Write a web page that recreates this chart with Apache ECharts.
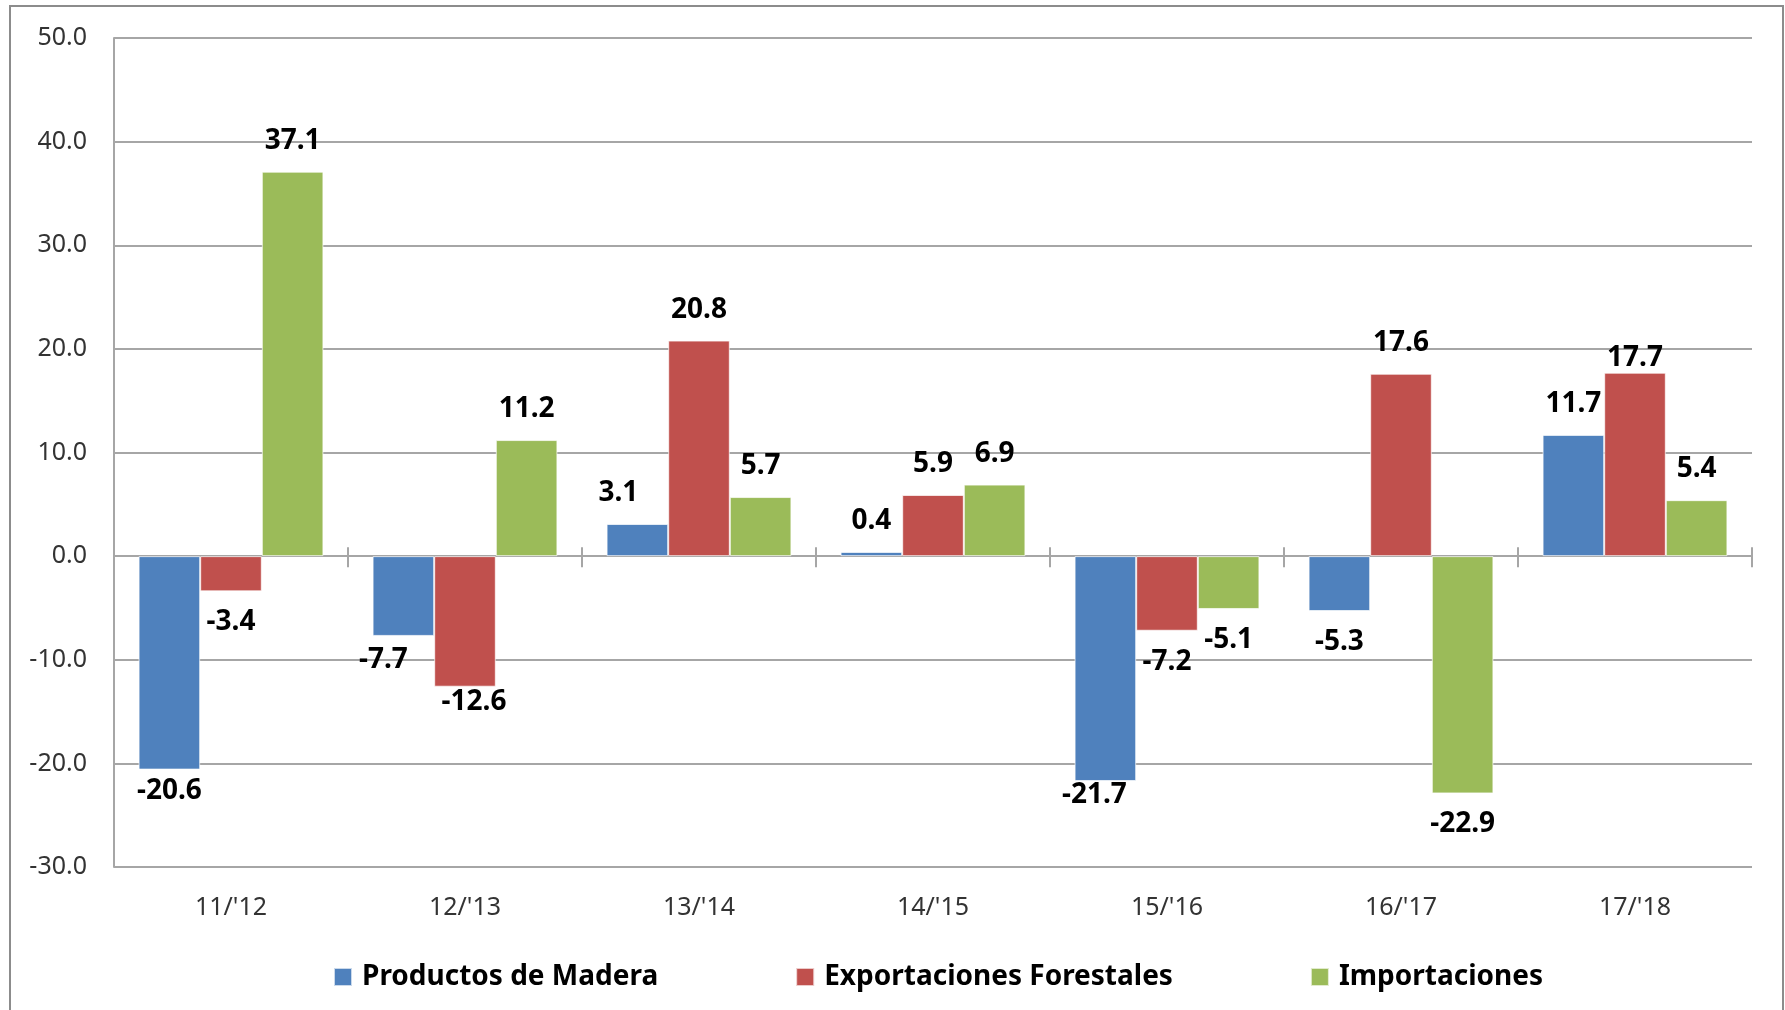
<!DOCTYPE html>
<html>
<head>
<meta charset="utf-8">
<script src="https://cdn.jsdelivr.net/npm/echarts@6/dist/echarts.min.js"></script>
<style>
    html, body { margin: 0; padding: 0; background: #fff; }
    #chart { position: absolute; left: 0; top: 0; width: 1785px; height: 1010px; }
    #frame { position: absolute; left: 9px; top: 5px; width: 1771px; height: 1030px;
             border: 2px solid #8c8c8c; pointer-events: none; }
</style>
</head>
<body>
<div id="chart"></div>
<div id="frame"></div>
<script>
    const categories = ["11/'12", "12/'13", "13/'14", "14/'15", "15/'16", "16/'17", "17/'18"];
    const seriesNames = ['Productos de Madera', 'Exportaciones Forestales', 'Importaciones'];
    const productosMadera = [-20.6, -7.7, 3.1, 0.4, -21.7, -5.3, 11.7];
    const exportacionesForestales = [-3.4, -12.6, 20.8, 5.9, -7.2, 17.6, 17.7];
    const importaciones = [37.1, 11.2, 5.7, 6.9, -5.1, -22.9, 5.4];
    const yTicks = { min: -30, max: 50, interval: 10 };

    const colors = ['#4f81bd', '#c0504d', '#9bbb59'];

    // hand-moved labels in the original, "series-category": [dx, dy]
    const labelNudge = {
        '0-0': [0, -10],
        '0-1': [-20, -7],
        '0-2': [-19, 0],
        '0-4': [-11, -17],
        '1-1': [9, -16],
        '1-6': [0, 16]
    };

    function buildData(values, s) {
        return values.map(function (v, i) {
            let nudge = labelNudge[s + '-' + i] || [0, 0];
            return {
                value: v,
                label: {
                    position: v < 0 ? 'bottom' : 'top',
                    offset: nudge
                }
            };
        });
    }

    const chart = echarts.init(document.getElementById('chart'));
    const font = '"Noto Sans", "DejaVu Sans", sans-serif';
    const gridColor = '#a6a6a6';

    let series = [productosMadera, exportacionesForestales, importaciones].map(function (vals, s) {
        return {
            name: seriesNames[s],
            type: 'bar',
            xAxisIndex: 0,
            yAxisIndex: 0,
            barGap: '0%',
            barCategoryGap: '21%',
            itemStyle: {
                color: colors[s],
                borderColor: 'rgba(255,255,255,0.7)',
                borderWidth: 1
            },
            label: {
                show: true,
                distance: 17,
                color: '#000',
                fontFamily: font,
                fontWeight: 'bold',
                fontSize: 28,
                formatter: function (p) { return p.value.toFixed(1); }
            },
            data: buildData(vals, s)
        };
    });

    let option = {
        animation: false,
        color: colors,
        grid: { left: 114, right: 33, top: 38, bottom: 143 },
        legend: {
            data: seriesNames,
            left: 328,
            top: 958,
            itemWidth: 18,
            itemHeight: 18,
            itemGap: 137,
            icon: 'rect',
            textStyle: {
                fontFamily: font,
                fontWeight: 'bold',
                fontSize: 28,
                color: '#000',
                padding: [0, 0, 0, 5]
            }
        },
        xAxis: [
            {
                // zero line with ticks below it
                type: 'category',
                data: categories,
                position: 'bottom',
                axisLine: { onZero: true, onZeroAxisIndex: 0, lineStyle: { color: gridColor, width: 2 } },
                axisTick: { show: true, interval: 0, length: 11, lineStyle: { color: gridColor, width: 2 } },
                axisLabel: { show: false },
                splitLine: { show: false }
            },
            {
                // category labels at the bottom of the plot
                type: 'category',
                data: categories,
                position: 'bottom',
                axisLine: { show: false, onZero: false },
                axisTick: { show: false },
                axisLabel: {
                    show: true,
                    margin: 28,
                    fontFamily: font,
                    fontSize: 25,
                    color: '#333'
                }
            },
            {
                // upper half of the crossing ticks on the zero line
                type: 'category',
                data: categories,
                position: 'bottom',
                axisLine: { show: false, onZero: true, onZeroAxisIndex: 1 },
                axisTick: { show: true, inside: true, interval: 0, length: 9, lineStyle: { color: gridColor, width: 2 } },
                axisLabel: { show: false }
            }
        ],
        yAxis: [
            {
                type: 'value',
                min: yTicks.min,
                max: yTicks.max,
                interval: yTicks.interval,
                axisLine: { show: true, lineStyle: { color: gridColor, width: 2 } },
                axisTick: { show: false },
                axisLabel: {
                    margin: 27,
                    fontFamily: font,
                    fontSize: 25,
                    color: '#333',
                    formatter: function (v) { return v.toFixed(1); }
                },
                splitLine: { lineStyle: { color: gridColor, width: 2 } }
            },
            {
                type: 'value',
                min: yTicks.min,
                max: yTicks.max,
                interval: yTicks.interval,
                position: 'left',
                axisLine: { show: false },
                axisTick: { show: false },
                axisLabel: { show: false },
                splitLine: { show: false }
            }
        ],
        series: series
    };

    chart.setOption(option);
</script>
</body>
</html>
